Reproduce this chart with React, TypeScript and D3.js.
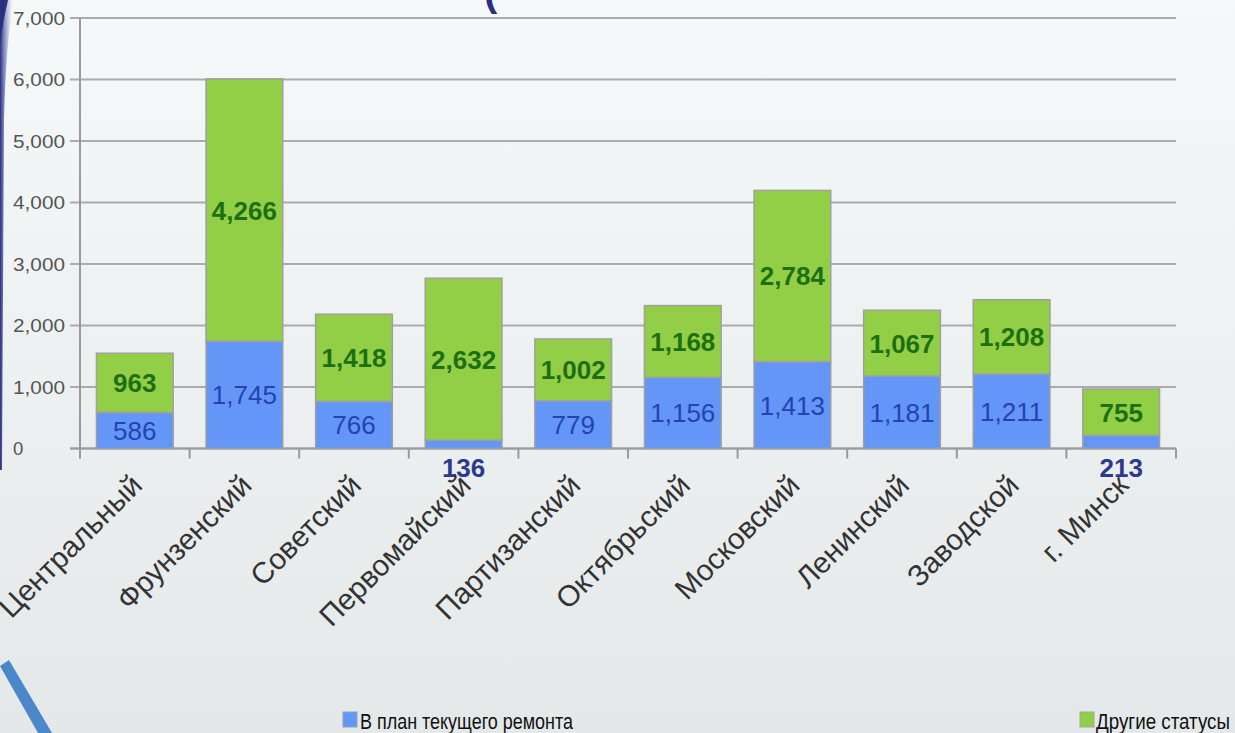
import React from "react";
import * as d3 from "d3";

const categories = ["Центральный", "Фрунзенский", "Советский", "Первомайский", "Партизанский", "Октябрьский", "Московский", "Ленинский", "Заводской", "г. Минск"];
const planValues = [586, 1745, 766, 136, 779, 1156, 1413, 1181, 1211, 213];
const otherValues = [963, 4266, 1418, 2632, 1002, 1168, 2784, 1067, 1208, 755];
const yTicks = [0, 1000, 2000, 3000, 4000, 5000, 6000, 7000];
const seriesNames = ["В план текущего ремонта", "Другие статусы"];

const W = 1235, H = 733;
const X0 = 80, X1 = 1176, Y0 = 448.5, YT = 18;
const BLUE = "#6396f6", GREEN = "#92cf47";

export default function App() {
  const x = d3.scaleBand<string>().domain(categories).range([X0, X1]).paddingInner(0.3).paddingOuter(0.15);
  const y = d3.scaleLinear().domain([0, 7000]).range([Y0, YT]);
  const rows = categories.map((c, i) => ({ cat: c, plan: planValues[i], other: otherValues[i] }));
  const stack = d3.stack<any>().keys(["plan", "other"])(rows);
  const fmt = d3.format(",");
  const step = x.step();
  const boundaries = d3.range(categories.length + 1).map((i) => X0 + i * step);

  return (
    <svg width={W} height={H} style={{ position: "absolute", left: 0, top: 0 }} fontFamily="'Liberation Sans', Arial, sans-serif">
      <defs>
        <linearGradient id="bg" x1="0" y1="0" x2="0" y2="1">
          <stop offset="0" stopColor="#f6f9fa" />
          <stop offset="1" stopColor="#e5e8e9" />
        </linearGradient>
        <linearGradient id="edge" x1="0" y1="0" x2="1" y2="0">
          <stop offset="0" stopColor="#2a2f80" />
          <stop offset="0.5" stopColor="#6a78b8" stopOpacity="0.5" />
          <stop offset="1" stopColor="#dfe6f0" stopOpacity="0" />
        </linearGradient>
      </defs>
      <rect x={0} y={0} width={W} height={H} fill="url(#bg)" />
      {/* decorative slide edges */}
      <path d="M0,0 L14,0 Q6,40 4,120 L2,470 L0,470 Z" fill="url(#edge)" />
      <path d="M0,0 L8,0 Q3,20 0,45 Z" fill="#2a2f80" />
      <path d="M0,666 L9,660 L52,733 L38,733 Z" fill="#4a88c9" />
      <text x={484} y={6} fontSize={40} fill="#2a2f80" fontWeight="bold">(</text>

      {/* gridlines */}
      {yTicks.map((t) => (
        <line key={"g" + t} x1={X0 - 10} x2={X1} y1={y(t)} y2={y(t)} stroke="#ababab" strokeWidth={2} />
      ))}
      {/* y tick labels */}
      {yTicks.map((t) => (
        <text key={"yl" + t} x={13} y={y(t) + 6.5} fontSize={18.5} fill="#555" textLength={t === 0 ? undefined : 52} lengthAdjust="spacingAndGlyphs">{fmt(t)}</text>
      ))}
      {/* axes */}
      <line x1={X0} x2={X0} y1={YT} y2={Y0 + 10} stroke="#9a9a9a" strokeWidth={2} />
      <line x1={X0 - 10} x2={X1} y1={Y0} y2={Y0} stroke="#9a9a9a" strokeWidth={2} />
      {boundaries.map((b, i) => (
        <line key={"t" + i} x1={b} x2={b} y1={Y0} y2={Y0 + 10} stroke="#9a9a9a" strokeWidth={2} />
      ))}

      {/* bars */}
      {stack.map((s, si) => (
        <g key={"s" + si}>
          {s.map((d, i) => (
            <rect key={i} x={x(categories[i])!} y={y(d[1])} width={x.bandwidth()} height={y(d[0]) - y(d[1])}
              fill={si === 0 ? BLUE : GREEN} stroke="#a0a0a0" strokeWidth={1.5} />
          ))}
        </g>
      ))}

      {/* value labels */}
      {stack.map((s, si) => (
        <g key={"l" + si}>
          {s.map((d, i) => {
            const v = d[1] - d[0];
            const h = y(d[0]) - y(d[1]);
            const cx = x(categories[i])! + x.bandwidth() / 2;
            if (h < 26) {
              return (
                <text key={i} x={cx} y={477} textAnchor="middle" fontSize={26} fontWeight="bold" fill="#2b3a8f">{fmt(v)}</text>
              );
            }
            const cy = (y(d[0]) + y(d[1])) / 2;
            return (
              <text key={i} x={cx} y={cy + 9.5} textAnchor="middle" fontSize={26}
                fontWeight={si === 1 ? "bold" : "normal"} fill={si === 1 ? "#1d6f12" : "#2343b0"}>{fmt(v)}</text>
            );
          })}
        </g>
      ))}

      {/* category labels */}
      {categories.map((c) => {
        const cx = x(c)! + x.bandwidth() / 2 + 9;
        return (
          <text key={c} x={cx} y={487} transform={`rotate(-45 ${cx} 487)`} textAnchor="end" fontSize={29.5} fill="#333">{c}</text>
        );
      })}

      {/* legend */}
      <rect x={343} y={712} width={14} height={15} fill={BLUE} stroke="#8aa" strokeWidth={1} />
      <text x={360} y={728.5} fontSize={22} fill="#111" textLength={213} lengthAdjust="spacingAndGlyphs">{seriesNames[0]}</text>
      <rect x={1080} y={712} width={14} height={15} fill={GREEN} stroke="#9a9" strokeWidth={1} />
      <text x={1096} y={728.5} fontSize={22} fill="#111" textLength={134} lengthAdjust="spacingAndGlyphs">{seriesNames[1]}</text>
    </svg>
  );
}
